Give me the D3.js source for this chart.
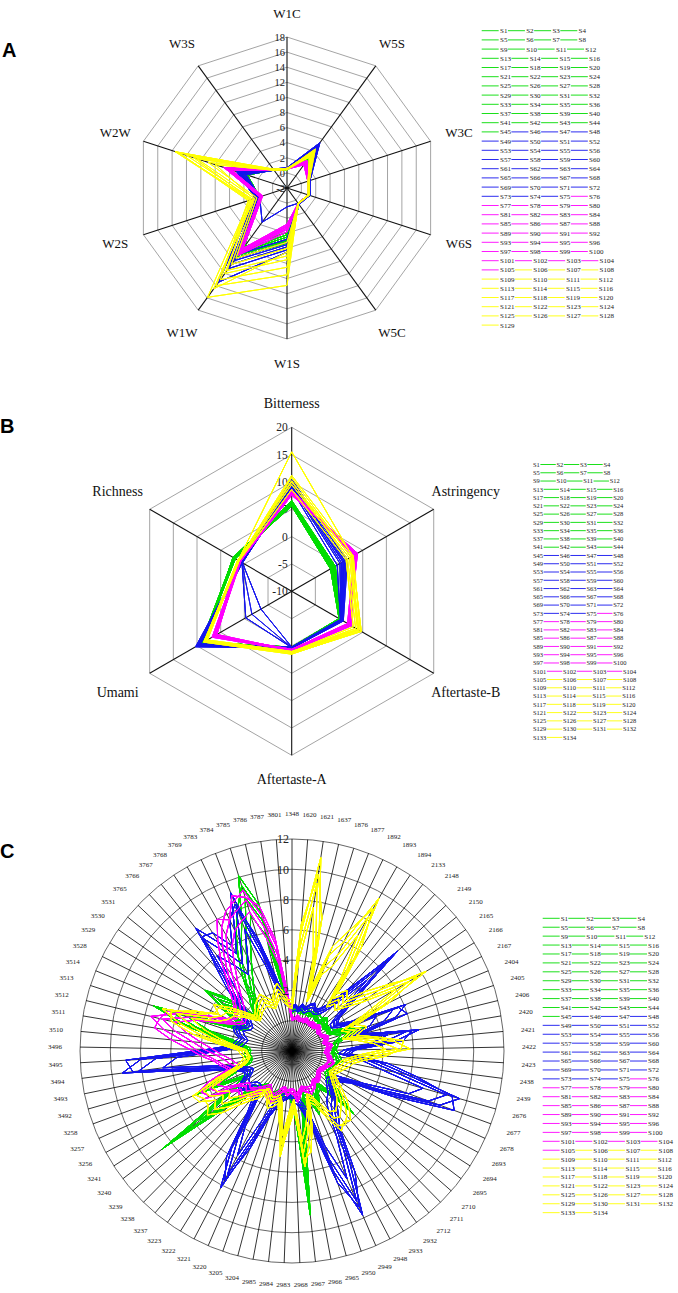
<!DOCTYPE html>
<html><head><meta charset="utf-8">
<script src="https://cdn.jsdelivr.net/npm/d3@7"></script>
<style>body{margin:0;background:#fff}svg{display:block}</style>
</head><body>
<svg id="chart" width="678" height="1293"></svg>
<script>
// ---------------- DATA ----------------
const groupColors = ["#00dd00", "#1414ee", "#ff00ff", "#ffff00"];

// Panel A
const axesA = ["W1C","W5S","W3C","W6S","W5C","W1S","W1W","W2S","W2W","W3S"];
const ticksA = [-2,0,2,4,6,8,10,12,14,16,18];
const groupSizesA = [45,30,30,24];
const greenA = [
 [0.5,3.0,1.0,1.0,0.5,4.2,8.2,2.0,3.8,1.0],
 [0.6,3.4,1.1,1.1,0.6,4.8,8.8,2.2,4.2,0.9],
 [0.4,2.8,0.9,0.9,0.5,3.9,7.6,1.8,3.5,1.0],
 [0.5,3.6,1.0,1.2,0.6,5.3,9.4,2.3,4.5,1.1],
 [0.6,3.2,1.0,1.0,0.5,4.5,8.5,2.1,4.0,1.0],
 [0.5,3.0,1.1,1.1,0.6,5.0,9.0,2.0,4.4,0.9]];
const blueA = [
 [0.6,4.5,1.1,1.1,0.6,5.2,9.5,2.0,4.2,1.0],
 [0.7,5.4,1.2,1.2,0.7,6.5,13.4,2.4,5.0,1.1],
 [0.5,4.2,1.0,1.0,0.5,4.8,8.8,1.9,3.9,0.9],
 [0.6,4.8,1.1,1.2,0.6,5.8,10.5,2.2,4.6,1.0],
 [0.6,5.0,1.2,1.1,0.7,6.2,11.2,2.3,4.8,1.1],
 [0.5,4.4,1.0,1.0,0.5,0.5,3.6,1.8,3.7,0.9],
 [0.6,4.6,1.1,1.1,0.6,5.5,9.9,2.1,4.4,1.0]];
const magentaA = [
 [0.5,2.0,0.9,0.9,0.5,3.0,8.2,1.5,6.0,0.9],
 [0.6,2.4,1.0,1.0,0.6,3.5,8.7,1.7,6.6,1.0],
 [0.5,1.8,0.9,0.9,0.5,2.8,7.9,1.4,5.7,0.9],
 [0.6,2.2,1.0,1.0,0.6,3.3,8.5,1.6,6.3,1.0],
 [0.5,2.5,1.0,1.0,0.5,3.8,9.0,1.8,6.8,1.0],
 [0.5,2.1,0.9,0.9,0.5,3.1,8.3,1.5,6.1,0.9]];
const yellowA = [
 [0.5,4.2,1.0,1.0,0.5,10.9,15.9,3.2,13.6,1.0],
 [0.6,4.0,1.1,1.1,0.6,9.5,14.0,3.0,13.4,1.1],
 [0.5,3.6,1.0,1.0,0.5,7.5,12.0,2.8,12.0,1.0],
 [0.4,3.2,0.9,0.9,0.5,6.0,10.5,2.5,10.5,0.9],
 [0.5,3.8,1.0,1.0,0.6,8.5,13.0,3.4,13.0,1.0],
 [0.6,3.0,1.0,1.1,0.5,5.2,9.5,2.2,9.0,1.0],
 [0.5,4.4,1.1,1.0,0.6,7.0,11.5,3.0,11.0,1.1],
 [0.5,3.4,1.0,1.0,0.5,6.5,14.5,2.6,8.0,0.9]];

// Panel B
const axesB = ["Bitterness","Astringency","Aftertaste-B","Aftertaste-A","Umami","Richness"];
const ticksB = [-10,-5,0,5,10,15,20];
const groupSizesB = [45,30,30,29];
const greenB = [
 [5.6,-1.8,0.0,0.2,8.7,2.2],
 [6.0,-1.4,0.3,0.3,9.0,2.0],
 [6.4,-1.0,0.5,0.4,8.4,2.4],
 [5.8,-1.6,0.2,0.2,8.9,1.9],
 [6.2,-1.2,0.4,0.3,9.2,2.3],
 [6.6,-0.8,0.6,0.5,8.6,2.1]];
const blueB = [
 [9.0,0.2,0.4,0.3,9.5,0.5],
 [10.5,1.5,0.8,0.4,10.3,0.6],
 [9.6,0.8,0.6,0.3,9.8,0.4],
 [8.6,-0.4,0.3,0.2,9.2,0.5],
 [10.0,1.2,0.7,0.3,-0.3,0.5],
 [9.3,0.5,0.5,0.2,-3.5,0.4],
 [9.8,1.8,0.9,0.4,10.0,0.6],
 [9.4,1.0,0.6,0.3,-1.6,0.5]];
const magentaB = [
 [7.6,3.7,2.3,0.8,6.2,0.9],
 [8.2,3.4,2.0,0.7,6.5,1.0],
 [8.6,3.0,2.6,0.9,6.0,0.8],
 [7.8,3.9,2.2,0.8,6.8,1.1],
 [8.4,3.2,1.8,0.6,6.3,0.9],
 [8.0,3.6,2.4,0.8,5.8,1.0]];
const yellowB = [
 [15.5,2.8,4.7,1.4,8.2,1.3],
 [10.8,2.5,4.2,1.3,8.0,1.2],
 [10.2,1.8,3.5,1.2,8.4,1.4],
 [9.5,2.2,3.9,1.0,7.8,1.2],
 [11.2,3.0,4.5,1.5,8.6,1.3],
 [8.6,1.5,3.0,1.1,8.0,1.1],
 [10.0,2.6,4.0,1.3,8.3,1.4]];

// Panel C
const catsC = ["1348","1620","1621","1637","1876","1877","1892","1893","1894","2133","2148","2149","2150","2165","2166","2167",
 "2404","2405","2406","2420","2421","2422","2423","2438","2439","2676","2677","2678","2693","2694","2695","2710","2711","2712",
 "2932","2933","2948","2949","2950","2965","2966","2967","2968","2983","2984","2985","3204","3205","3220","3221","3222","3223",
 "3237","3238","3239","3240","3241","3256","3257","3258","3492","3493","3494","3495","3496","3510","3511","3512","3513","3514",
 "3528","3529","3530","3531","3765","3766","3767","3768","3769","3783","3784","3785","3786","3787","3801"];
const ringsC = [0,2,4,6,8,10,12];
const tickLabelsC = ["2","4","6","8","10","12"];
const groupSizesC = [45,30,30,29];
const greenC = [
 [0.8,0.6,0.9,0.7,0.5,0.8,0.6,0.9,0.7,0.5,0.8,1.0,0.7,0.6,0.9,0.8,1.6,
  2.4,1.2,0.9,0.8,0.7,0.9,1.0,1.2,0.9,0.7,0.8,0.6,0.9,1.1,1.8,3.8,1.4,
  0.9,1.1,1.6,2.2,1.3,0.9,2.6,8.9,1.8,1.0,0.9,0.8,1.1,0.9,1.4,1.2,0.8,
  0.9,1.2,1.8,3.0,8.7,3.0,1.6,5.1,2.6,1.0,0.8,0.9,1.0,0.8,1.2,2.4,5.2,
  7.6,2.4,1.6,2.8,4.8,3.2,1.2,1.8,2.2,3.4,4.6,5.8,7.2,10.1,7.9,3.0,1.2],
 [0.6,0.8,0.7,0.9,0.6,0.7,0.8,0.6,0.9,0.7,0.6,0.9,0.8,0.7,0.8,0.6,1.2,
  1.8,1.4,0.8,0.9,0.8,0.7,0.9,1.0,1.1,0.8,0.7,0.9,0.8,1.0,1.4,2.8,1.1,
  0.8,1.0,1.3,1.8,1.1,1.0,2.0,6.8,1.5,0.9,1.0,0.7,1.0,0.8,1.2,1.0,0.9,
  0.8,1.0,1.5,2.4,7.2,2.4,1.2,4.2,2.0,0.9,0.9,0.8,0.9,0.9,1.0,2.0,4.4,
  6.4,2.0,1.4,2.4,4.0,2.8,1.0,1.5,1.9,2.8,3.8,5.0,6.4,8.6,6.8,2.5,1.0],
 [0.5,0.7,0.6,0.5,0.7,0.6,0.5,0.7,0.6,0.8,0.5,0.7,0.6,0.5,0.7,0.6,0.9,
  1.4,1.0,0.7,0.6,0.7,0.6,0.8,0.7,0.9,0.6,0.8,0.7,0.6,0.8,1.1,2.2,0.9,
  0.7,0.8,1.0,1.4,0.9,0.8,1.6,5.2,1.2,0.8,0.7,0.8,0.9,0.7,1.0,0.9,0.7,
  0.7,0.9,1.2,2.0,5.6,2.0,1.0,3.4,1.7,0.8,0.7,0.7,0.8,0.7,0.9,1.6,3.6,
  5.2,1.7,1.2,2.0,3.4,2.4,0.9,1.3,1.6,2.4,3.2,4.2,5.6,7.4,5.8,2.1,0.9],
 [0.9,1.0,0.8,1.1,0.9,1.0,0.8,1.1,0.9,1.0,0.9,1.2,1.0,0.8,1.0,1.1,2.0,
  3.0,1.6,1.1,1.0,0.9,1.1,1.2,1.4,1.0,0.9,1.0,0.8,1.1,1.3,2.2,3.4,1.6,
  1.1,1.3,1.9,2.6,1.5,1.2,3.0,7.8,2.0,1.2,1.1,1.0,1.3,1.1,1.6,1.4,1.0,
  1.1,1.4,2.2,3.4,8.0,3.4,1.6,4.8,3.0,1.2,1.0,1.1,1.2,1.0,1.4,2.8,5.8,
  7.2,2.8,1.9,3.2,5.0,3.6,1.4,2.0,2.6,3.8,5.2,6.6,8.0,9.4,7.4,3.4,1.4]];
const blueC = [
 [0.9,1.0,0.8,1.1,0.9,1.2,1.4,1.1,1.3,1.8,3.2,7.6,3.0,1.6,1.4,2.2,6.1,
  5.2,2.6,6.5,4.8,2.0,1.6,3.8,5.8,9.5,8.4,4.6,2.2,1.6,1.2,1.4,1.8,2.4,
  2.8,3.6,6.2,9.8,6.4,3.0,2.0,1.4,1.2,1.0,1.1,1.3,1.6,2.4,4.4,8.2,5.6,
  2.6,1.6,1.4,1.6,2.2,2.0,1.4,1.2,1.6,2.4,4.0,9.3,8.0,3.2,1.8,1.6,1.4,
  1.8,2.0,1.6,1.4,1.8,2.2,3.4,4.8,8.3,6.6,5.4,6.8,9.2,5.2,2.8,1.6,1.2],
 [0.8,0.9,0.7,1.0,0.8,1.0,1.2,1.0,1.1,1.5,2.6,6.4,2.5,1.4,1.2,1.9,5.2,
  4.4,2.2,5.6,4.0,1.7,1.4,3.2,5.0,8.6,7.6,4.0,1.9,1.4,1.1,1.2,1.6,2.1,
  2.4,3.1,5.4,8.8,5.6,2.6,1.7,1.2,1.1,0.9,1.0,1.1,1.4,2.0,3.8,7.2,4.8,
  2.2,1.4,1.2,1.4,1.9,1.7,1.2,1.0,1.4,2.1,3.4,8.2,7.0,2.8,1.6,1.4,1.2,
  1.6,1.8,1.4,1.2,1.6,1.9,3.0,4.2,7.4,5.8,4.6,6.0,8.2,4.6,2.4,1.4,1.0],
 [0.6,0.7,0.6,0.8,0.6,0.8,0.9,0.8,0.9,1.2,2.0,4.8,2.0,1.1,1.0,1.5,4.0,
  3.4,1.8,4.4,3.2,1.4,1.1,2.6,4.0,7.0,6.2,3.2,1.5,1.1,0.9,1.0,1.3,1.7,
  1.9,2.5,4.4,7.2,4.6,2.1,1.4,1.0,0.9,0.8,0.9,0.9,1.1,1.6,3.0,5.8,3.9,
  1.8,1.1,1.0,1.1,1.5,1.4,1.0,0.8,1.1,1.7,2.8,6.6,5.6,2.3,1.3,1.1,1.0,
  1.3,1.5,1.1,1.0,1.3,1.6,2.4,3.4,6.0,4.8,3.8,4.8,6.6,3.8,2.0,1.1,0.9],
 [1.0,1.1,0.9,1.2,1.0,1.3,1.5,1.2,1.4,2.0,3.6,7.0,3.4,1.8,1.5,2.4,5.6,
  6.0,2.8,6.0,5.4,2.2,1.8,4.4,6.4,9.0,9.4,5.2,2.4,1.8,1.4,1.6,2.0,2.6,
  3.2,4.0,7.0,9.2,7.2,3.4,2.2,1.6,1.4,1.1,1.2,1.4,1.8,2.6,5.0,7.6,6.2,
  3.0,2.0,1.6,1.8,2.4,2.2,1.6,1.4,1.8,2.6,4.6,8.6,9.0,3.6,2.0,1.8,1.6,
  2.0,2.2,1.8,1.6,2.0,2.4,3.8,5.4,7.6,7.4,6.0,7.6,8.4,5.8,3.2,1.8,1.4]];
const magentaC = [
 [0.2,0.1,0.3,0.2,0.1,0.2,0.3,0.1,0.2,0.3,0.2,0.4,0.3,0.2,0.1,0.3,0.5,
  0.4,0.3,0.6,0.5,0.4,0.3,0.5,0.6,0.8,0.7,0.5,0.4,0.3,0.2,0.4,0.5,0.6,
  0.5,0.8,0.9,1.0,0.8,0.6,0.9,1.2,0.8,0.7,0.9,0.6,0.8,1.2,1.6,1.4,1.0,
  1.2,1.6,2.0,2.4,2.2,2.8,4.2,4.6,3.4,2.2,2.6,3.0,3.6,4.4,5.2,6.6,7.6,
  6.0,3.8,2.6,2.2,2.4,2.8,3.2,4.0,5.0,6.2,7.4,8.2,8.6,9.1,7.2,5.0,1.6],
 [0.1,0.2,0.2,0.1,0.2,0.1,0.2,0.2,0.1,0.2,0.1,0.3,0.2,0.1,0.2,0.2,0.4,
  0.3,0.2,0.4,0.4,0.3,0.2,0.4,0.5,0.6,0.5,0.4,0.3,0.2,0.2,0.3,0.4,0.5,
  0.4,0.6,0.7,0.8,0.6,0.5,0.7,1.0,0.6,0.6,0.7,0.5,0.6,1.0,1.3,1.1,0.8,
  1.0,1.3,1.6,2.0,1.8,2.3,3.6,4.0,2.8,1.8,2.2,2.5,3.0,3.8,4.6,5.8,6.8,
  5.2,3.2,2.2,1.8,2.0,2.4,2.8,3.4,4.4,5.6,6.8,7.6,8.0,8.4,6.4,4.4,1.3],
 [0.0,0.1,0.1,0.0,0.1,0.0,0.1,0.1,0.0,0.1,0.0,0.2,0.1,0.0,0.1,0.1,0.3,
  0.2,0.1,0.3,0.3,0.2,0.1,0.3,0.4,0.5,0.4,0.3,0.2,0.1,0.1,0.2,0.3,0.4,
  0.3,0.5,0.6,0.6,0.5,0.4,0.6,0.8,0.5,0.5,0.6,0.4,0.5,0.8,1.1,0.9,0.6,
  0.8,1.1,1.4,1.7,1.5,2.0,3.0,3.4,2.4,1.5,1.8,2.1,2.6,3.2,4.0,5.0,6.0,
  4.6,2.8,1.9,1.6,1.7,2.0,2.4,3.0,3.8,4.8,6.0,6.8,7.2,7.6,5.6,3.8,1.1],
 [0.3,0.2,0.4,0.3,0.2,0.3,0.4,0.2,0.3,0.4,0.3,0.5,0.4,0.3,0.2,0.4,0.6,
  0.5,0.4,0.7,0.6,0.5,0.4,0.6,0.7,0.9,0.8,0.6,0.5,0.4,0.3,0.5,0.6,0.7,
  0.6,0.9,1.0,1.2,0.9,0.7,1.0,1.4,0.9,0.8,1.0,0.7,0.9,1.4,1.8,1.6,1.2,
  1.4,1.8,2.2,2.6,2.4,3.0,4.6,5.0,3.8,2.4,2.8,3.2,4.0,4.8,6.0,7.2,7.0,
  6.6,4.2,2.8,2.4,2.6,3.0,3.6,4.4,5.6,6.8,8.0,7.6,9.0,8.6,7.8,5.4,1.8]];
const yellowC = [
 [1.2,5.8,10.9,6.2,2.0,4.8,6.0,9.6,5.4,2.4,3.0,2.6,3.6,5.0,8.3,4.6,2.2,
  2.8,2.0,3.2,4.8,5.8,3.6,2.4,1.8,1.6,1.4,1.2,1.0,1.4,1.8,2.4,3.0,3.6,
  4.0,3.8,2.6,1.6,1.4,2.8,4.2,5.7,1.6,2.6,5.0,2.2,1.4,1.6,1.8,1.4,1.2,
  1.6,2.0,2.6,3.6,4.4,4.0,5.0,5.2,3.0,1.6,1.2,1.0,1.2,1.4,2.4,4.0,5.6,
  7.0,4.4,3.7,3.6,2.6,1.8,1.2,1.4,1.6,1.8,2.0,1.6,1.4,1.8,2.2,1.6,1.2],
 [1.0,4.8,9.2,5.2,1.7,4.0,5.0,8.2,4.6,2.0,2.6,2.2,3.0,4.2,7.0,3.8,1.8,
  2.4,1.7,2.7,4.0,5.0,3.0,2.0,1.5,1.4,1.2,1.0,0.9,1.2,1.5,2.0,2.6,3.0,
  3.4,3.2,2.2,1.4,1.2,2.4,3.6,4.8,1.4,2.2,4.2,1.8,1.2,1.4,1.5,1.2,1.0,
  1.4,1.7,2.2,3.0,3.8,3.4,4.2,4.4,2.6,1.4,1.0,0.9,1.0,1.2,2.0,3.4,4.8,
  6.0,3.8,3.2,3.0,2.2,1.5,1.0,1.2,1.4,1.5,1.7,1.4,1.2,1.5,1.9,1.4,1.0],
 [0.8,4.0,7.6,4.4,1.4,3.4,4.2,6.8,3.8,1.7,2.2,1.9,2.6,3.6,6.0,3.2,1.5,
  2.0,1.4,2.3,3.4,4.2,2.5,1.7,1.3,1.2,1.0,0.9,0.8,1.0,1.3,1.7,2.2,2.6,
  2.9,2.7,1.9,1.2,1.0,2.0,3.0,4.0,1.2,1.9,3.6,1.5,1.0,1.2,1.3,1.0,0.9,
  1.2,1.4,1.9,2.5,3.2,2.9,3.6,3.8,2.2,1.2,0.9,0.8,0.9,1.0,1.7,2.8,4.0,
  5.0,3.2,2.7,2.5,1.9,1.3,0.9,1.0,1.2,1.3,1.4,1.2,1.0,1.3,1.6,1.2,0.9],
 [1.4,6.4,9.8,7.0,2.4,5.4,6.8,8.8,6.2,2.8,3.4,3.0,4.2,5.6,7.6,5.2,2.6,
  3.2,2.4,3.6,5.4,5.2,4.2,2.8,2.1,1.9,1.6,1.4,1.2,1.6,2.1,2.8,3.4,4.0,
  3.8,4.2,3.0,1.9,1.6,3.2,4.8,5.2,1.9,3.0,4.6,2.6,1.6,1.9,2.1,1.6,1.4,
  1.9,2.3,3.0,4.2,5.0,4.6,4.6,5.0,3.4,1.9,1.4,1.2,1.4,1.6,2.8,4.6,6.2,
  6.4,5.0,3.4,4.0,3.0,2.1,1.4,1.6,1.9,2.1,2.3,1.9,1.6,2.1,2.6,1.9,1.4]];

// ---------------- BUILD SERIES ----------------
function buildSeries(sizes, profiles){
  const out = []; let idx = 1;
  sizes.forEach((n, g) => {
    for (let j = 0; j < n; j++) {
      out.push({name: "S" + idx, group: g, values: profiles[g][j % profiles[g].length]});
      idx++;
    }
  });
  return out;
}
const seriesA = buildSeries(groupSizesA, [greenA, blueA, magentaA, yellowA]);
const seriesB = buildSeries(groupSizesB, [greenB, blueB, magentaB, yellowB]);
const seriesC = buildSeries(groupSizesC, [greenC, blueC, magentaC, yellowC]);

// ---------------- DRAW ----------------
const svg = d3.select("#chart");
const serif = "'Liberation Serif','Times New Roman',serif";
const sans = "'Liberation Sans',Arial,sans-serif";
svg.append("rect").attr("width",678).attr("height",1293).attr("fill","#fff");

function polygonRadar(o){
  const n = o.axes.length;
  const r = d3.scaleLinear().domain(o.domain).range([0, o.R]);
  const ang = i => i * 2 * Math.PI / n;
  const g = svg.append("g").attr("transform", `translate(${o.cx},${o.cy})`);
  const line = d3.lineRadial().angle((d,i) => ang(i)).radius(d => r(d)).curve(d3.curveLinearClosed);
  g.selectAll("path.ring").data(o.ticks.slice(1)).join("path")
    .attr("d", t => line(o.axes.map(() => t)))
    .attr("fill","none").attr("stroke","#9a9a9a").attr("stroke-width",0.9);
  o.axes.forEach((a,i) => {
    g.append("line").attr("x1",0).attr("y1",0)
      .attr("x2", r(o.domain[1]) * Math.sin(ang(i)))
      .attr("y2", -r(o.domain[1]) * Math.cos(ang(i)))
      .attr("stroke","#111").attr("stroke-width",1.1);
  });
  g.selectAll("text.tick").data(o.ticks).join("text")
    .attr("x", o.tickDx).attr("y", t => -r(t)).attr("dy","0.36em")
    .attr("text-anchor","end").attr("font-family",serif).attr("font-size",o.tickFont)
    .attr("fill","#222").text(t => t);
  g.selectAll("path.series").data(o.series).join("path")
    .attr("d", s => line(s.values))
    .attr("fill","none").attr("stroke", s => groupColors[s.group])
    .attr("stroke-width",0.8).attr("stroke-linejoin","round");
  o.axes.forEach((a,i) => {
    const th = ang(i);
    const rl = o.R + o.labOff + o.labSide * Math.abs(Math.sin(th));
    g.append("text").attr("x", rl * Math.sin(th)).attr("y", -rl * Math.cos(th))
      .attr("dy","0.35em").attr("text-anchor","middle")
      .attr("font-family",serif).attr("font-size",o.axisFont).attr("fill","#111").text(a);
  });
}

polygonRadar({cx:287, cy:188, R:151, axes:axesA, domain:[-2,18], ticks:ticksA,
  series:seriesA, tickFont:10.5, tickDx:-2, axisFont:13, labOff:24, labSide:6});
polygonRadar({cx:291.7, cy:591.3, R:164, axes:axesB, domain:[-10,20], ticks:ticksB,
  series:seriesB, tickFont:11.5, tickDx:-4, axisFont:14, labOff:24, labSide:15});

// Panel C (circular)
(function(){
  const cx = 292, cy = 1051, R = 212, n = catsC.length;
  const r = d3.scaleLinear().domain([-2,12]).range([0,R]);
  const ang = i => i * 2 * Math.PI / n;
  const g = svg.append("g").attr("transform",`translate(${cx},${cy})`);
  g.selectAll("circle.ring").data(ringsC).join("circle")
    .attr("r", t => r(t)).attr("fill","none").attr("stroke","#555").attr("stroke-width",0.9);
  catsC.forEach((c,i) => {
    g.append("line").attr("x1",0).attr("y1",0)
      .attr("x2", R*Math.sin(ang(i))).attr("y2", -R*Math.cos(ang(i)))
      .attr("stroke","#000").attr("stroke-width",0.8);
  });
  const line = d3.lineRadial().angle((d,i) => ang(i)).radius(d => r(d)).curve(d3.curveLinearClosed);
  g.selectAll("path.series").data(seriesC).join("path")
    .attr("d", s => line(s.values)).attr("fill","none")
    .attr("stroke", s => groupColors[s.group]).attr("stroke-width",0.8).attr("stroke-linejoin","round");
  g.selectAll("text.tick").data(tickLabelsC).join("text")
    .attr("x",-3).attr("y", t => -r(+t)).attr("dy","0.36em").attr("text-anchor","end")
    .attr("font-family",serif).attr("font-size",12).attr("fill","#222").text(t => t);
  catsC.forEach((c,i) => {
    const th = ang(i);
    const rl = R + 25 - 3 * Math.max(0, -Math.cos(th));
    g.append("text").attr("x", rl*Math.sin(th)).attr("y", -rl*Math.cos(th))
      .attr("dy","0.35em").attr("text-anchor","middle")
      .attr("font-family",serif).attr("font-size",7).attr("fill","#222").text(c);
  });
})();

// Legends
function legend(series, o){
  const rows = Math.ceil(series.length / 4);
  for (let rI = 0; rI < rows; rI++) {
    let x = o.x0; const y = o.y0 + rI * o.dy;
    for (let c = 0; c < 4; c++) {
      const s = series[rI*4 + c]; if (!s) break;
      const withLine = c > 0 || o.firstLine;
      if (withLine) {
        svg.append("line").attr("x1",x).attr("x2",x+o.L).attr("y1",y).attr("y2",y)
          .attr("stroke",groupColors[s.group]).attr("stroke-width",0.9);
      }
      const tx = withLine ? x + o.L + o.gap : x;
      const t = svg.append("text").attr("x",tx).attr("y",y + o.fs*0.35)
        .attr("font-family",serif).attr("font-size",o.fs).attr("fill","#222").text(s.name);
      const w = t.node().getComputedTextLength();
      x = tx + w + o.gap2;
    }
  }
}
legend(seriesA, {x0:481.7, y0:30.7, dy:9.2, L:17, gap:1.3, gap2:0.5, fs:7, firstLine:true});
legend(seriesB, {x0:533, y0:464.5, dy:8.27, L:15.4, gap:0.7, gap2:0.5, fs:6.5, firstLine:false});
legend(seriesC, {x0:542.7, y0:918.3, dy:8.92, L:17, gap:1, gap2:0.2, fs:7, firstLine:true});

// Panel letters
[["A",2,57],["B",0,433],["C",0,858]].forEach(([t,x,y]) => {
  svg.append("text").attr("x",x).attr("y",y).attr("font-family",sans)
    .attr("font-weight","bold").attr("font-size",20).attr("fill","#000").text(t);
});
</script>
</body></html>
